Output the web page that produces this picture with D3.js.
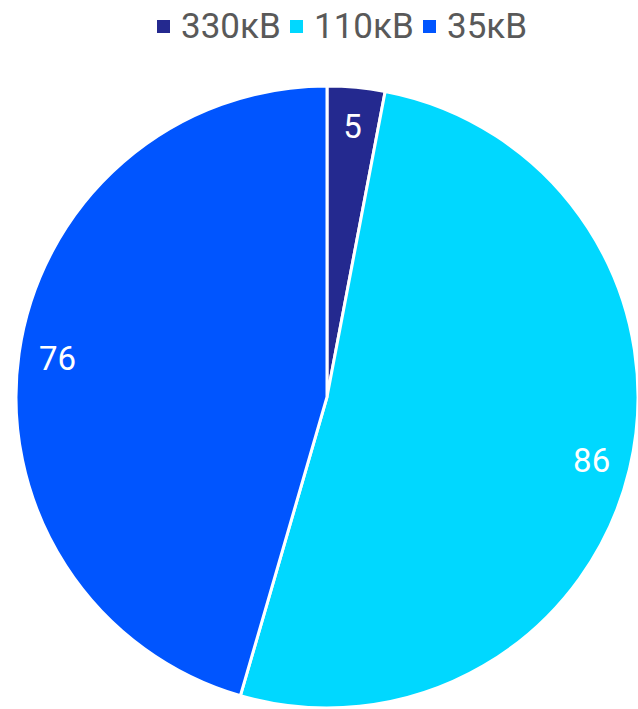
<!DOCTYPE html>
<html>
<head>
<meta charset="utf-8">
<script src="https://cdn.jsdelivr.net/npm/d3@7"></script>
<style>
  body { margin: 0; background: #fff; }
  text { font-family: Roboto, sans-serif; }
</style>
</head>
<body>
<div id="chart"></div>
<script>
// Data
const categories = ["330кВ", "110кВ", "35кВ"];
const values = [5, 86, 76];
const colors = ["#24298f", "#00d8ff", "#0055ff"];

const width = 638;
const height = 709;

const svg = d3.select("#chart")
  .append("svg")
  .attr("width", width)
  .attr("height", height);

// Legend
const legendX = [157, 290, 423];
const legend = svg.append("g");
categories.forEach(function(c, i) {
  legend.append("rect")
    .attr("x", legendX[i])
    .attr("y", 20)
    .attr("width", 13)
    .attr("height", 13)
    .attr("fill", colors[i]);
  legend.append("text")
    .attr("x", legendX[i] + 24)
    .attr("y", 38)
    .attr("font-size", 35)
    .attr("fill", "#595959")
    .text(c);
});

// Pie
const radius = 311;
const pie = d3.pie().sort(null).value(function(d) { return d.value; });
const arc = d3.arc().outerRadius(radius).innerRadius(0);
const labelArc = d3.arc().outerRadius(radius * 0.875).innerRadius(radius * 0.875);
const color = d3.scaleOrdinal().domain(categories).range(colors);

const data = categories.map(function(c, i) { return { name: c, value: values[i] }; });

const g = svg.append("g")
  .attr("transform", "translate(" + 327 + "," + 397 + ")");

const slices = pie(data);

g.selectAll("path")
  .data(slices)
  .enter().append("path")
  .attr("d", arc)
  .attr("fill", function(d) { return color(d.data.name); })
  .attr("stroke", "white")
  .style("stroke-width", "3px");

g.selectAll("text")
  .data(slices)
  .enter().append("text")
  .attr("transform", function(d) { return "translate(" + labelArc.centroid(d) + ")"; })
  .attr("dy", ".35em")
  .attr("text-anchor", "middle")
  .attr("font-size", 33)
  .attr("fill", "white")
  .text(function(d) { return d.data.value; });
</script>
</body>
</html>
